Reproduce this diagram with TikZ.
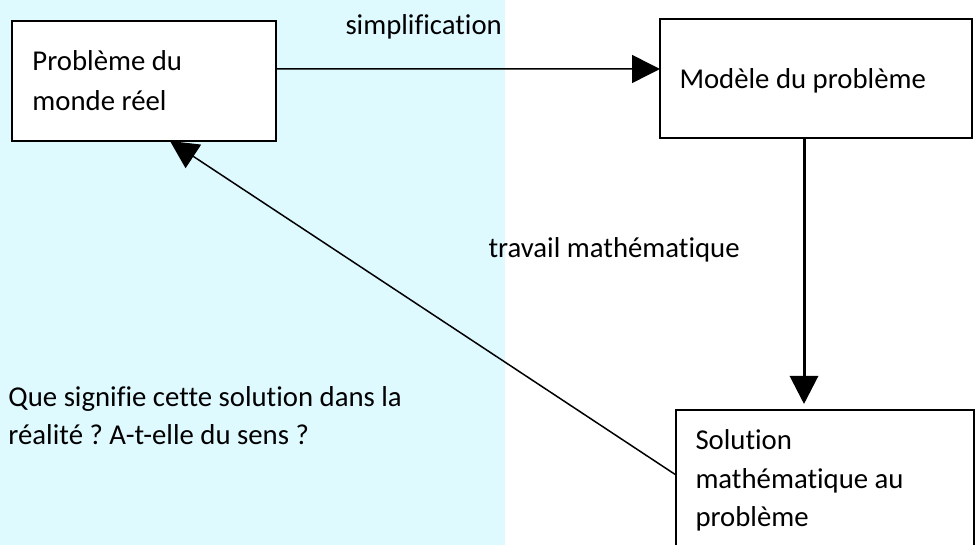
\documentclass[tikz,border=0pt]{standalone}
\usepackage{fontspec}
\setmainfont{Carlito}[Ligatures=CommonOff]
\frenchspacing
\usepackage{xcolor}
\usetikzlibrary{arrows.meta,calc}
\definecolor{figline}{RGB}{0,0,0}
\definecolor{figsky}{RGB}{223,250,255}
\tikzset{
  box/.style  ={draw=figline, line width=0.6pt, fill=white, inner sep=0pt, outer sep=0pt, anchor=north west},
  lab/.style  ={font=\fontsize{11.5}{16}\selectfont, inner sep=0pt, anchor=base west},
  ptr/.style  ={draw=figline, line width=0.6pt, -{Triangle[length=11.2pt,width=11.2pt]}},
  ptrb/.style ={ptr, line width=1.2pt},
}

\begin{document}
\begin{tikzpicture}[x=0.4pt,y=-0.4pt]
  \useasboundingbox (0,0) rectangle (975,545);
  \clip (0,0) rectangle (975,545);
  \fill[figsky] (0,0) rectangle (505,545);
  % boxes
  \node[box,minimum width=105.6pt,minimum height=48pt] (real) at (12,21) {};
  \node[box,minimum width=124.8pt,minimum height=47.6pt] (model) at (660,19) {};
  \node[box,minimum width=119.2pt,minimum height=60pt] (sol) at (676,410) {};
  \node[lab] (realA) at (32,71) {Problème du};
  \node[lab] (realB) at (32,111) {monde réel};
  \node[lab] (modelA) at (679,89) {Modèle du problème};
  \node[lab] (solA) at (695,450) {Solution};
  \node[lab] (solB) at (695,489) {mathématique au};
  \node[lab] (solC) at (695,527) {problème};
  % arrows
  \coordinate (drop) at (804,0);
  \draw[ptr] ([yshift=4.8pt]real.east) -- ([yshift=3.8pt]model.west);
  \draw[ptrb,shorten >=2.4pt] (model.south -| drop) -- (sol.north -| drop);
  \draw[ptr] ($(sol.north west)+(0,65)$) -- ($(real.south west)+(158,0)$);
  \node[lab] (simp) at (345,35) {simplification};
  \node[lab] (work) at (488,258) {travail mathématique};
  \node[lab] (askA) at (8,407) {Que signifie cette solution dans la};
  \node[lab] (askB) at (8,445) {réalité ? A-t-elle du sens ?};
\end{tikzpicture}
\end{document}
